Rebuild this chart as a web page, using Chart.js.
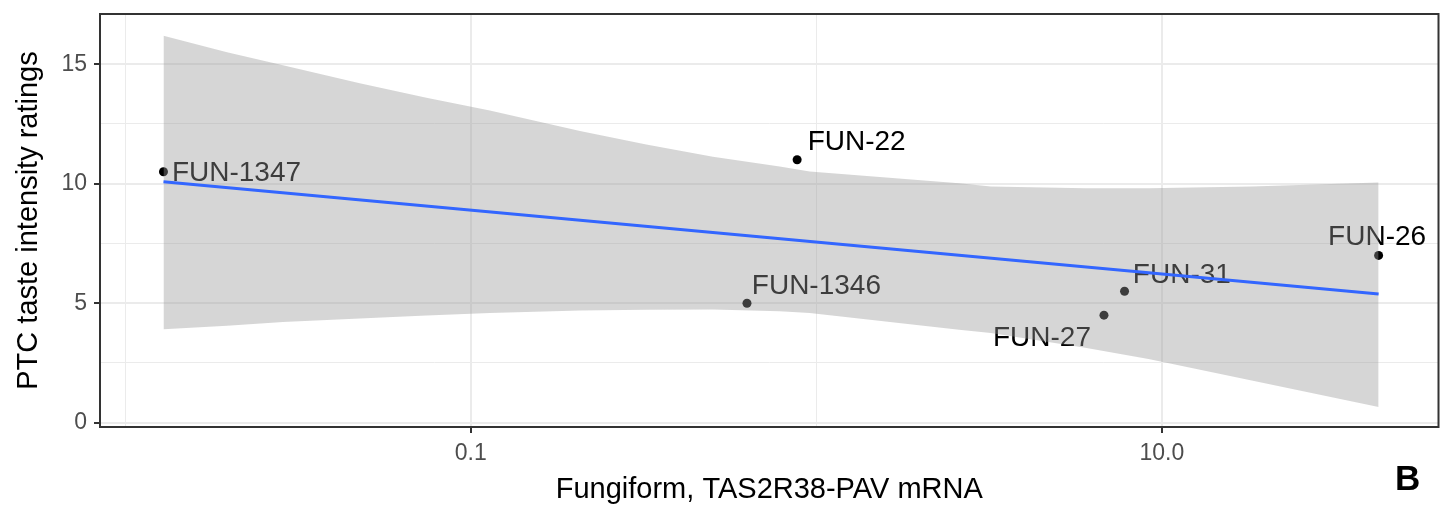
<!DOCTYPE html>
<html>
<head>
<meta charset="utf-8">
<title>PTC taste intensity vs TAS2R38-PAV mRNA</title>
<script src="https://cdn.jsdelivr.net/npm/chart.js@4.4.1/dist/chart.umd.min.js"></script>
<style>
  html, body { margin: 0; padding: 0; background: #fff; }
  #wrap { width: 1443px; height: 507px; }
</style>
</head>
<body>
<div id="wrap"><canvas id="myChart" width="1443" height="507"></canvas></div>
<script>
// Samples (fungiform papillae)
const sampleNames = ['FUN-1347', 'FUN-22', 'FUN-1346', 'FUN-27', 'FUN-31', 'FUN-26'];
const mrnaLevel = [0.0129, 0.88, 0.63, 6.8, 7.8, 42.4];
const ptcRating = [10.5, 11, 5, 4.5, 5.5, 7];

// Linear fit (blue line), from the smallest to the largest sample
const fitX = [0.0129, 42.4];
const fitY = [10.08, 5.38];

// Grey confidence ribbon
const bandX = [0.0129, 0.0197, 0.0286, 0.0477, 0.0744, 0.1135, 0.207, 0.322, 0.502, 0.783, 0.957, 2.59, 3.2, 6.0, 9.15, 18.2, 42.4];
const bandUpper = [16.19, 15.5, 14.96, 14.2, 13.6, 13.06, 12.2, 11.64, 11.13, 10.72, 10.51, 10.02, 9.88, 9.81, 9.81, 9.88, 10.05];
const bandLower = [3.91, 4.06, 4.21, 4.36, 4.48, 4.59, 4.69, 4.73, 4.74, 4.66, 4.59, 3.89, 3.75, 3.14, 2.66, 1.77, 0.66];

// Axis breaks
const xBreaks = [0.01, 0.1, 1, 10];
const xBreakLabels = ['', '0.1', '', '10.0'];
const yBreaks = [0, 2.5, 5, 7.5, 10, 12.5, 15];
const yBreakLabels = ['0', '', '5', '', '10', '', '15'];

const FONT = '"Liberation Sans", Arial, Helvetica, sans-serif';

// where each sample name sits relative to its point (px)
const labelOffsets = [[73, 1.5], [59.5, -17.4], [69.4, -17.2], [-62, 23.2], [57.3, -16], [-1.5, -18]];

// labels go under the ribbon, like ggplot draws them
const sampleLabels = {
    id: 'sampleLabels',
    beforeDatasetsDraw(chart) {
        const ctx = chart.ctx;
        const xs = chart.scales.x, ys = chart.scales.y;
        ctx.save();
        ctx.font = '28px ' + FONT;
        ctx.fillStyle = '#000';
        ctx.textAlign = 'center';
        ctx.textBaseline = 'middle';
        sampleNames.forEach((name, i) => {
            const px = xs.getPixelForValue(mrnaLevel[i]) + labelOffsets[i][0];
            const py = ys.getPixelForValue(ptcRating[i]) + labelOffsets[i][1];
            ctx.fillText(name, px, py);
        });
        ctx.restore();
    }
};

// panel border and the "B" tag
const panelFrame = {
    id: 'panelFrame',
    afterDraw(chart) {
        const ctx = chart.ctx;
        const a = chart.chartArea;
        ctx.save();
        ctx.strokeStyle = '#333333';
        ctx.lineWidth = 2;
        ctx.strokeRect(a.left, a.top, a.right - a.left, a.bottom - a.top);
        ctx.font = 'bold 35px ' + FONT;
        ctx.fillStyle = '#000';
        ctx.textAlign = 'left';
        ctx.textBaseline = 'alphabetic';
        ctx.fillText('B', 1395, 490);
        ctx.restore();
    }
};

function isMajor(list, labels, value) {
    const i = list.indexOf(value);
    return i >= 0 && labels[i] !== '';
}

const ctx = document.getElementById('myChart').getContext('2d');
const chart = new Chart(ctx, {
    type: 'line',
    data: {
        datasets: [
            {
                label: 'fit',
                data: fitX.map((x, i) => ({ x: x, y: fitY[i] })),
                borderColor: '#3366FF',
                borderWidth: 3,
                pointRadius: 0,
                fill: false,
                tension: 0
            },
            {
                label: 'upper',
                data: bandX.map((x, i) => ({ x: x, y: bandUpper[i] })),
                borderColor: 'rgba(0,0,0,0)',
                borderWidth: 0,
                backgroundColor: 'rgba(153,153,153,0.4)',
                pointRadius: 0,
                fill: '+1',
                tension: 0
            },
            {
                label: 'lower',
                data: bandX.map((x, i) => ({ x: x, y: bandLower[i] })),
                borderColor: 'rgba(0,0,0,0)',
                borderWidth: 0,
                pointRadius: 0,
                fill: false,
                tension: 0
            },
            {
                label: 'samples',
                data: mrnaLevel.map((x, i) => ({ x: x, y: ptcRating[i] })),
                showLine: false,
                pointRadius: 4.5,
                pointBackgroundColor: '#000',
                pointBorderWidth: 0
            }
        ]
    },
    options: {
        responsive: false,
        animation: false,
        layout: { padding: { top: 14, right: 4, bottom: 0, left: 0 } },
        plugins: {
            legend: { display: false },
            tooltip: { enabled: false }
        },
        scales: {
            x: {
                type: 'logarithmic',
                min: 0.00845,
                max: 63.2,
                afterBuildTicks: s => { s.ticks = xBreaks.map(v => ({ value: v })); },
                afterFit: s => { s.height = 80; s.paddingLeft = 0; s.paddingRight = 0; },
                ticks: {
                    autoSkip: false,
                    maxRotation: 0,
                    padding: 7,
                    color: '#4D4D4D',
                    font: { size: 23, family: FONT },
                    callback: v => xBreakLabels[xBreaks.indexOf(v)]
                },
                grid: {
                    color: '#EBEBEB',
                    lineWidth: c => isMajor(xBreaks, xBreakLabels, c.tick.value) ? 2 : 1,
                    tickLength: 6,
                    tickWidth: 2,
                    tickColor: c => isMajor(xBreaks, xBreakLabels, c.tick.value) ? '#333333' : 'rgba(0,0,0,0)'
                },
                border: { display: false },
                title: {
                    display: true,
                    text: 'Fungiform, TAS2R38-PAV mRNA',
                    color: '#000',
                    font: { size: 29, family: FONT },
                    padding: { top: 0, bottom: 0 }
                }
            },
            y: {
                min: -0.18,
                max: 17.1,
                afterBuildTicks: s => { s.ticks = yBreaks.map(v => ({ value: v })); },
                afterFit: s => { s.width = 100; s.paddingTop = 0; s.paddingBottom = 0; },
                ticks: {
                    autoSkip: false,
                    padding: 7,
                    color: '#4D4D4D',
                    font: { size: 23, family: FONT },
                    callback: v => yBreakLabels[yBreaks.indexOf(v)]
                },
                grid: {
                    color: '#EBEBEB',
                    lineWidth: c => isMajor(yBreaks, yBreakLabels, c.tick.value) ? 2 : 1,
                    tickLength: 6,
                    tickWidth: 2,
                    tickColor: c => isMajor(yBreaks, yBreakLabels, c.tick.value) ? '#333333' : 'rgba(0,0,0,0)'
                },
                border: { display: false },
                title: {
                    display: true,
                    text: 'PTC taste intensity ratings',
                    color: '#000',
                    font: { size: 29, family: FONT },
                    padding: { top: 12, bottom: 0 }
                }
            }
        }
    },
    plugins: [sampleLabels, panelFrame]
});
</script>
</body>
</html>
